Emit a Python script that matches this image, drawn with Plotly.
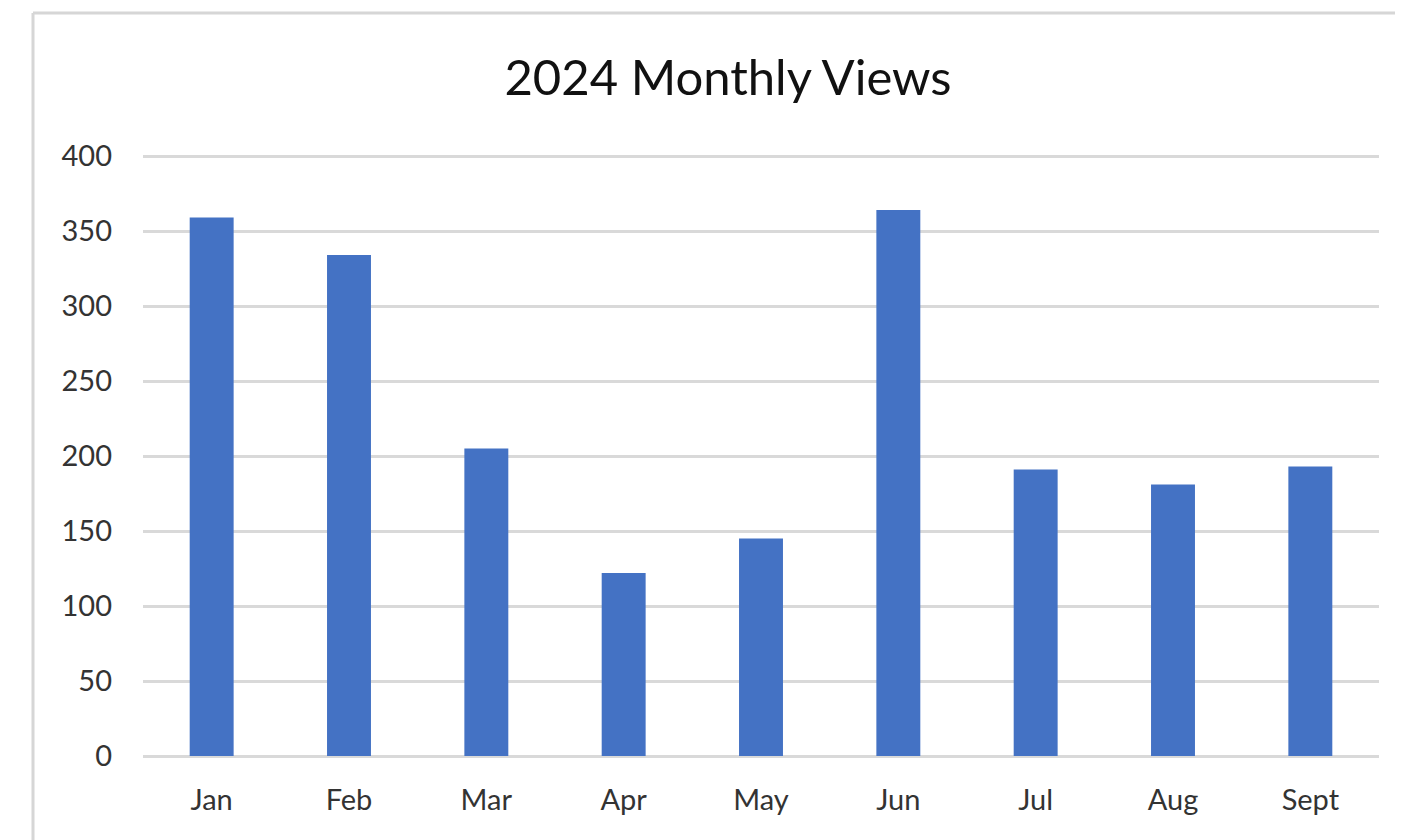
import plotly.graph_objects as go

months = ["Jan", "Feb", "Mar", "Apr", "May", "Jun", "Jul", "Aug", "Sept"]
views = [359, 334, 205, 122, 145, 364, 191, 181, 193]
y_ticks = [0, 50, 100, 150, 200, 250, 300, 350, 400]

OFF = 8  # page body margin
W, H = 1403 - OFF, 840 - OFF
L, T = 143 - OFF, 153 - OFF
pw, ph = 1236, 603
R = W - L - pw
B = H - T - ph

def px(x):
    return (x - OFF - L) / pw

def py(y):
    return (H - B - (y - OFF)) / ph

fig = go.Figure(go.Bar(x=months, y=views, marker_color="#4472c4",
                       marker_line_width=0, width=0.32))

font = "Lato, Open Sans, sans-serif"
fig.update_layout(
    width=W, height=H,
    margin=dict(l=L, r=R, t=T, b=B),
    paper_bgcolor="white", plot_bgcolor="white",
    showlegend=False,
    title=dict(text="2024 Monthly Views", x=(728 - OFF) / W, xanchor="center",
               y=1 - (78 - OFF) / H, yanchor="middle",
               font=dict(family=font, size=49, color="#111111")),
    xaxis=dict(showgrid=False, showline=False, ticks="",
               tickfont=dict(family=font, size=29, color="#333333"),
               ticklabelstandoff=24),
    yaxis=dict(range=[0, 402], tickvals=y_ticks, showgrid=True,
               gridcolor="#d9d9d9", gridwidth=3, zeroline=True,
               zerolinecolor="#d9d9d9", zerolinewidth=3, showline=False,
               tickfont=dict(family=font, size=29, color="#333333"),
               ticklabelstandoff=30),
    shapes=[
        dict(type="line", xref="paper", yref="paper", x0=px(33), x1=px(33),
             y0=py(13), y1=py(850), line=dict(color="#d6d6d6", width=3)),
        dict(type="line", xref="paper", yref="paper", x0=px(33), x1=px(1415),
             y0=py(13), y1=py(13), line=dict(color="#d6d6d6", width=3)),
    ],
)

fig.write_html("out.html")
